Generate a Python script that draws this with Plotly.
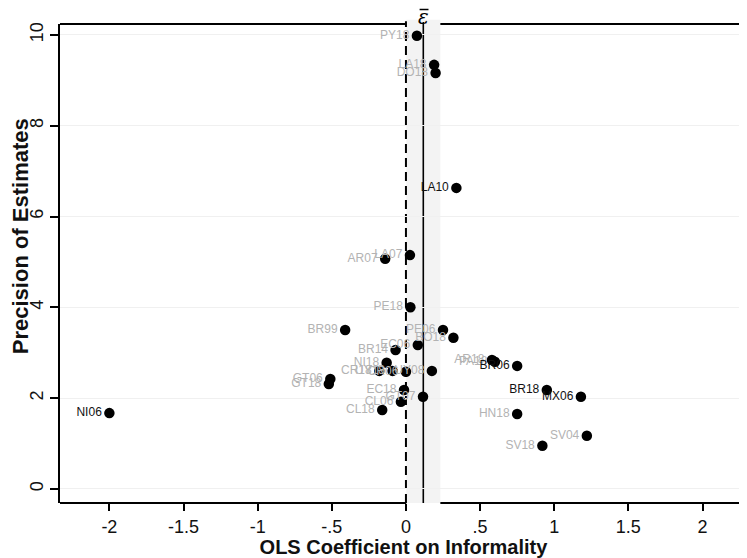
import plotly.graph_objects as go

# ---- data ----
labels = ["PY18", "LA18", "DO18", "LA10", "LA07", "AR07", "PE18", "BR99", "PE06", "BO18",
          "EC06", "BR14", "NI18", "CR18", "UY18", "CR06", "UY08", "GT06", "GT18", "AR18",
          "PA18", "BR06", "BR18", "MX06", "HN18", "SV04", "SV18", "EC18", "CL06", "GT07",
          "CL18", "NI06"]
coef = [0.074, 0.19, 0.20, 0.34, 0.027, -0.14, 0.03, -0.41, 0.25, 0.32,
        0.08, -0.07, -0.13, -0.18, -0.09, 0.0, 0.175, -0.51, -0.52, 0.58,
        0.60, 0.75, 0.95, 1.18, 0.75, 1.22, 0.92, -0.013, -0.034, 0.115,
        -0.16, -2.0]
precision = [9.98, 9.34, 9.16, 6.63, 5.15, 5.07, 4.0, 3.5, 3.5, 3.33,
             3.17, 3.06, 2.78, 2.6, 2.6, 2.58, 2.6, 2.42, 2.31, 2.84,
             2.80, 2.71, 2.18, 2.03, 1.65, 1.17, 0.95, 2.18, 1.92, 2.03,
             1.74, 1.67]
dark_set = ["LA10", "BR06", "BR18", "MX06", "NI06"]

eps_bar = 0.117
eps_band = [0.002, 0.232]

x_ticks = [-2, -1.5, -1, -0.5, 0, 0.5, 1, 1.5, 2]
x_tick_text = ["-2", "-1.5", "-1", "-.5", "0", ".5", "1", "1.5", "2"]
y_ticks = [0, 2, 4, 6, 8, 10]

x_range = [-2.333, 2.30]
y_range = [-0.31, 10.24]

FONT = "Liberation Sans, Arial, sans-serif"
GRAY = "#b3b3b3"

label_colors = ["#111111" if l in dark_set else GRAY for l in labels]

fig = go.Figure()
fig.add_trace(go.Scatter(
    x=coef, y=precision, mode="markers+text", text=labels,
    textposition="middle left",
    textfont=dict(family=FONT, size=12, color=label_colors),
    marker=dict(color="black", size=10.5, line=dict(width=0)),
    hoverinfo="skip", showlegend=False, cliponaxis=False,
))

PLOT_H = 479.0  # plot-area height in px
shapes = []
# confidence band
shapes.append(dict(type="rect", xref="x", yref="paper", x0=eps_band[0], x1=eps_band[1],
                   y0=0, y1=1.009, fillcolor="#f3f3f3", line=dict(width=0), layer="below"))
# frame lines (top and bottom) interrupted by the band
for yy in (0, 1):
    shapes.append(dict(type="line", xref="x", yref="paper", x0=x_range[0], x1=eps_band[0],
                       y0=yy, y1=yy, line=dict(color="black", width=2), layer="below"))
    shapes.append(dict(type="line", xref="x", yref="paper", x0=eps_band[1], x1=x_range[1] + 0.1,
                       y0=yy, y1=yy, line=dict(color="black", width=2), layer="below"))
# dashed zero line and mean line
shapes.append(dict(type="line", xref="x", yref="paper", x0=0, x1=0, y0=0, y1=1.006,
                   line=dict(color="black", width=2, dash="9px,5px"), layer="below"))
shapes.append(dict(type="line", xref="x", yref="paper", x0=eps_bar, x1=eps_bar, y0=0, y1=1.004,
                   line=dict(color="black", width=1.6), layer="below"))
# bar over the epsilon label
bar_y = 1 + 14.5 / PLOT_H
shapes.append(dict(type="line", xref="x", yref="paper", x0=eps_bar - 0.025, x1=eps_bar + 0.035,
                   y0=bar_y, y1=bar_y, line=dict(color="black", width=1.5), layer="above"))

fig.update_layout(
    # the page adds an 8px body margin, so the figure is shifted to compensate
    width=739, height=550,
    margin=dict(l=52, r=0, t=16, b=55),
    paper_bgcolor="white", plot_bgcolor="white",
    font=dict(family=FONT, color="black"),
    shapes=shapes,
    showlegend=False,
    annotations=[
        dict(x=eps_bar, y=1.0, xref="x", yref="paper", yshift=7,
             text="<i>ε</i>", showarrow=False,
             font=dict(family="DejaVu Serif, serif", size=20, color="black"),
             xanchor="center", yanchor="middle"),
        dict(x=0, y=0.557, xref="paper", yref="paper", xshift=-40,
             text="<b>Precision of Estimates</b>", textangle=-90, showarrow=False,
             font=dict(family=FONT, size=22, color="#111111"),
             xanchor="center", yanchor="middle"),
    ],
    xaxis=dict(range=x_range, tickvals=x_ticks, ticktext=x_tick_text,
               showgrid=False, zeroline=False, showline=False,
               ticks="outside", ticklen=7, tickwidth=1.5, tickcolor="black",
               tickfont=dict(family=FONT, size=18, color="#111111"),
               title=dict(text="<b>OLS Coefficient on Informality</b>",
                          font=dict(family=FONT, size=20, color="#111111"), standoff=2),
               automargin=False),
    yaxis=dict(range=y_range, tickvals=y_ticks,
               showgrid=True, gridcolor="#f0f0f0", gridwidth=1, zeroline=False,
               showline=True, linecolor="black", linewidth=2,
               ticks="outside", ticklen=8, tickwidth=1.5, tickcolor="black",
               tickangle=-90,
               tickfont=dict(family=FONT, size=18, color="#111111"),
               automargin=False),
)

fig.write_html("out.html")
